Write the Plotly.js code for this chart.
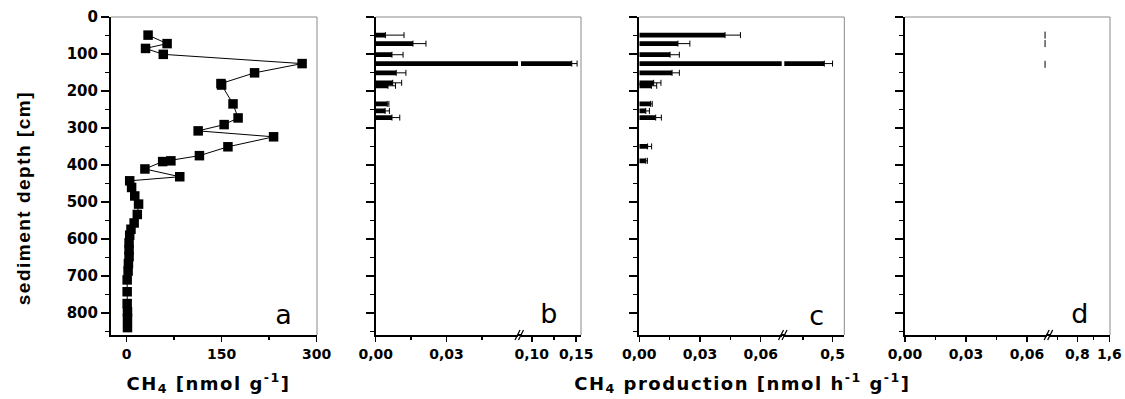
<!DOCTYPE html>
<html>
<head>
<meta charset="utf-8">
<script src="https://cdn.plot.ly/plotly-3.0.1.min.js"></script>
<style>
html,body{margin:0;padding:0;background:#fff;}
#chart{width:1125px;height:399px;}
#chart .annotation-text{letter-spacing:1.5px;}
</style>
</head>
<body>
<div id="chart"></div>
<script>
// ---- Data ----
// Panel a: CH4 concentration profile
const depthA = [49,72,85,101,126,151,180,184,235,273,291,308,324,351,375,389,391,411,432,443,461,484,506,534,557,574,590,611,630,648,667,687,711,743,775,797,815,840];
const ch4A   = [34,64,30,58,277,202,149,150,168,176,154,113,232,160,115,70,57,29,84,5,8,13,19,17,12,7,5,4,4,4,3,2.5,1,1,1,1.5,1.5,1.5];

// Panel b: CH4 production
const depthB = [49,72,102,126,151,178,186,235,254,272];
const prodB  = [0.0041,0.0158,0.0069,0.145,0.0087,0.0072,0.0052,0.0049,0.0040,0.0069];
const errB   = [0.0079,0.0055,0.0047,0.0060,0.0041,0.0038,0.0032,0.0007,0.0018,0.0033];

// Panel c: CH4 production
const depthC = [49,72,102,126,151,178,186,235,254,272,350,389];
const prodC  = [0.0424,0.0191,0.0152,0.486,0.0162,0.0071,0.0060,0.0056,0.0032,0.0081,0.0041,0.0032];
const errC   = [0.0076,0.0059,0.0046,0.014,0.0036,0.0036,0.0026,0.0008,0.0018,0.0028,0.0020,0.0008];

// Panel d: only tiny marks near the axis break
const depthD = [49,72,128];
const markD1 = [0.0689,0.0689,0.0689];
const markD2 = [0.0707,0.0707,0.0707];

// Tick labels
const yTicks = [0,100,200,300,400,500,600,700,800];
const yTickText = ['0','100','200','300','400','500','600','700','800'];
const aTicks = [0,150,300];
const aTickText = ['0','150','300'];
const b1Ticks = [0,0.03], b1Text = ['0,00','0,03'];
const b2Ticks = [0.10,0.15], b2Text = ['0,10','0,15'];
const c1Ticks = [0,0.03,0.06], c1Text = ['0,00','0,03','0,06'];
const c2Ticks = [0.5], c2Text = ['0,5'];
const d1Ticks = [0,0.03,0.06], d1Text = ['0,00','0,03','0,06'];
const d2Ticks = [0.8,1.6], d2Text = ['0,8','1,6'];

// ---- Layout helpers ----
const W = 1125, H = 399;
const fx = p => p / W;
const fy = p => 1 - p / H;
const TOP = 17, BOT = 335;
const yDom = [fy(BOT), fy(TOP)];

const tickFont = {family: 'DejaVu Sans, Liberation Sans, Arial', size: 14, color: '#000', weight: 'bold'};
const yTickFont = {family: 'DejaVu Sans, Liberation Sans, Arial', size: 15, color: '#000', weight: 'bold'};

function yAxis(anchor, labels) {
  return {
    domain: yDom, anchor: anchor, range: [860, 0], autorange: false,
    tickmode: 'array', tickvals: yTicks, ticktext: yTickText, showticklabels: labels,
    ticks: 'outside', ticklen: 8, tickwidth: 1.5, tickcolor: '#000',
    minor: {tickmode: 'array', tickvals: [50,150,250,350,450,550,650,750,850], ticks: 'outside', ticklen: 4, tickwidth: 1.5, tickcolor: '#000'},
    showline: true, linewidth: 2, linecolor: '#000',
    showgrid: false, zeroline: false, tickfont: yTickFont
  };
}
function xAxis(anchor, dom, range, tv, tt, minorVals) {
  return {
    domain: [fx(dom[0]), fx(dom[1])], anchor: anchor, range: range, autorange: false,
    tickmode: 'array', tickvals: tv, ticktext: tt,
    ticks: 'outside', ticklen: 5, tickwidth: 1.5, tickcolor: '#000',
    minor: {tickmode: 'array', tickvals: minorVals, ticks: 'outside', ticklen: 3, tickwidth: 1.5, tickcolor: '#000'},
    showline: true, linewidth: 2, linecolor: '#000',
    showgrid: false, zeroline: false, tickfont: tickFont
  };
}

// panel pixel geometry
const PA = [111, 317];
const PB1 = [375.7, 518], PB2 = [521, 581];
const PC1 = [639.3, 781.7], PC2 = [784.3, 844.3];
const PD1 = [905, 1047.3], PD2 = [1050, 1110];

const errStyle = (arr) => ({type: 'data', symmetric: false, array: arr, arrayminus: arr.map(() => 0), color: '#000', thickness: 1, width: 3, visible: true});

function barTrace(xa, ya, depth, vals, errs) {
  return {type: 'bar', orientation: 'h', xaxis: xa, yaxis: ya, y: depth, x: vals, width: 13,
          marker: {color: '#000', line: {width: 0}}, error_x: errStyle(errs), hoverinfo: 'skip', showlegend: false};
}

const markStyle = {symbol: 'line-ns-open', size: 5, color: '#000', line: {color: '#000', width: 1}};
const traces = [
  {type: 'scatter', mode: 'lines+markers', x: ch4A, y: depthA, xaxis: 'x', yaxis: 'y',
   line: {color: '#000', width: 1}, marker: {symbol: 'square', size: 9.5, color: '#000'}, showlegend: false, cliponaxis: false},
  barTrace('x2', 'y2', depthB, prodB, errB),
  barTrace('x3', 'y2', depthB, prodB, errB),
  barTrace('x4', 'y3', depthC, prodC, errC),
  barTrace('x5', 'y3', depthC, prodC, errC),
  {type: 'scatter', mode: 'markers', x: markD1, y: depthD, xaxis: 'x6', yaxis: 'y4', cliponaxis: false, marker: markStyle, showlegend: false},
  {type: 'scatter', mode: 'markers', x: markD2, y: depthD, xaxis: 'x6', yaxis: 'y4', cliponaxis: false, marker: markStyle, showlegend: false},
  {type: 'scatter', mode: 'markers', x: [], y: [], xaxis: 'x7', yaxis: 'y4', showlegend: false}
];

// frame lines (top & right, thin grey) and break marks
const shapes = [];
function frame(l, r) {
  shapes.push({type: 'line', xref: 'paper', yref: 'paper', x0: fx(l), x1: fx(r), y0: fy(TOP), y1: fy(TOP), line: {color: '#8a8a8a', width: 1}});
  shapes.push({type: 'line', xref: 'paper', yref: 'paper', x0: fx(r), x1: fx(r), y0: fy(TOP), y1: fy(BOT), line: {color: '#8a8a8a', width: 1}});
}
frame(PA[0], PA[1]); frame(PB1[0], PB2[1]); frame(PC1[0], PC2[1]); frame(PD1[0], PD2[1]);
function brk(a, b) {
  shapes.push({type: 'line', xref: 'paper', yref: 'paper', x0: fx(a - 1), x1: fx(b + 1), y0: fy(BOT), y1: fy(BOT), line: {color: '#000', width: 2}});
  const c = (a + b) / 2;
  [-2, 1.5].forEach(o => shapes.push({type: 'line', xref: 'paper', yref: 'paper',
    x0: fx(c + o - 2.5), x1: fx(c + o + 2.5), y0: fy(BOT + 5), y1: fy(BOT - 5), line: {color: '#000', width: 1.3}}));
}
brk(PB1[1], PB2[0]); brk(PC1[1], PC2[0]); brk(PD1[1], PD2[0]);

const letterFont = {family: 'DejaVu Sans, Liberation Sans, Arial', size: 27, color: '#000'};
const titleFont = {family: 'DejaVu Sans, Liberation Sans, Arial', size: 18, color: '#000', weight: 'bold'};
const ann = (text, x, y, font, extra) => Object.assign({text: text, xref: 'paper', yref: 'paper', x: fx(x), y: fy(y),
  xanchor: 'center', yanchor: 'middle', showarrow: false, font: font}, extra || {});
const annotations = [
  ann('sediment depth [cm]', 23, 198, {family: 'Liberation Sans, Arial', size: 19, color: '#000', weight: 'bold'}, {textangle: -90}),
  ann('CH<sub>4</sub> [nmol g<sup>-1</sup>]', 208, 383, titleFont),
  ann('CH<sub>4</sub> production [nmol h<sup>-1</sup> g<sup>-1</sup>]', 743, 383, titleFont),
  ann('a', 284, 314, letterFont),
  ann('b', 549, 313, letterFont),
  ann('c', 817, 315, letterFont),
  ann('d', 1080, 313, letterFont)
];

const layout = {
  width: W, height: H, autosize: false,
  margin: {l: 0, r: 0, t: 0, b: 0, pad: 0},
  paper_bgcolor: '#fff', plot_bgcolor: '#fff',
  showlegend: false, barmode: 'overlay',
  xaxis:  xAxis('y',  PA,  [-24.5, 300.5], aTicks, aTickText, [75, 225]),
  yaxis:  yAxis('x', true),
  xaxis2: xAxis('y2', PB1, [0, 0.0603], b1Ticks, b1Text, [0.015, 0.045]),
  xaxis3: xAxis('y2', PB2, [0.0879, 0.1554], b2Ticks, b2Text, [0.125]),
  yaxis2: yAxis('x2', false),
  xaxis4: xAxis('y3', PC1, [0, 0.0704], c1Ticks, c1Text, [0.015, 0.045]),
  xaxis5: xAxis('y3', PC2, [0.418, 0.52], c2Ticks, c2Text, [0.45]),
  yaxis3: yAxis('x4', false),
  xaxis6: xAxis('y4', PD1, [0, 0.07], d1Ticks, d1Text, [0.015, 0.045]),
  xaxis7: xAxis('y4', PD2, [0.1175, 1.6175], d2Ticks, d2Text, [0.3, 1.2]),
  yaxis4: yAxis('x6', false),
  shapes: shapes,
  annotations: annotations
};

Plotly.newPlot('chart', traces, layout, {staticPlot: true, displayModeBar: false});
</script>
</body>
</html>
